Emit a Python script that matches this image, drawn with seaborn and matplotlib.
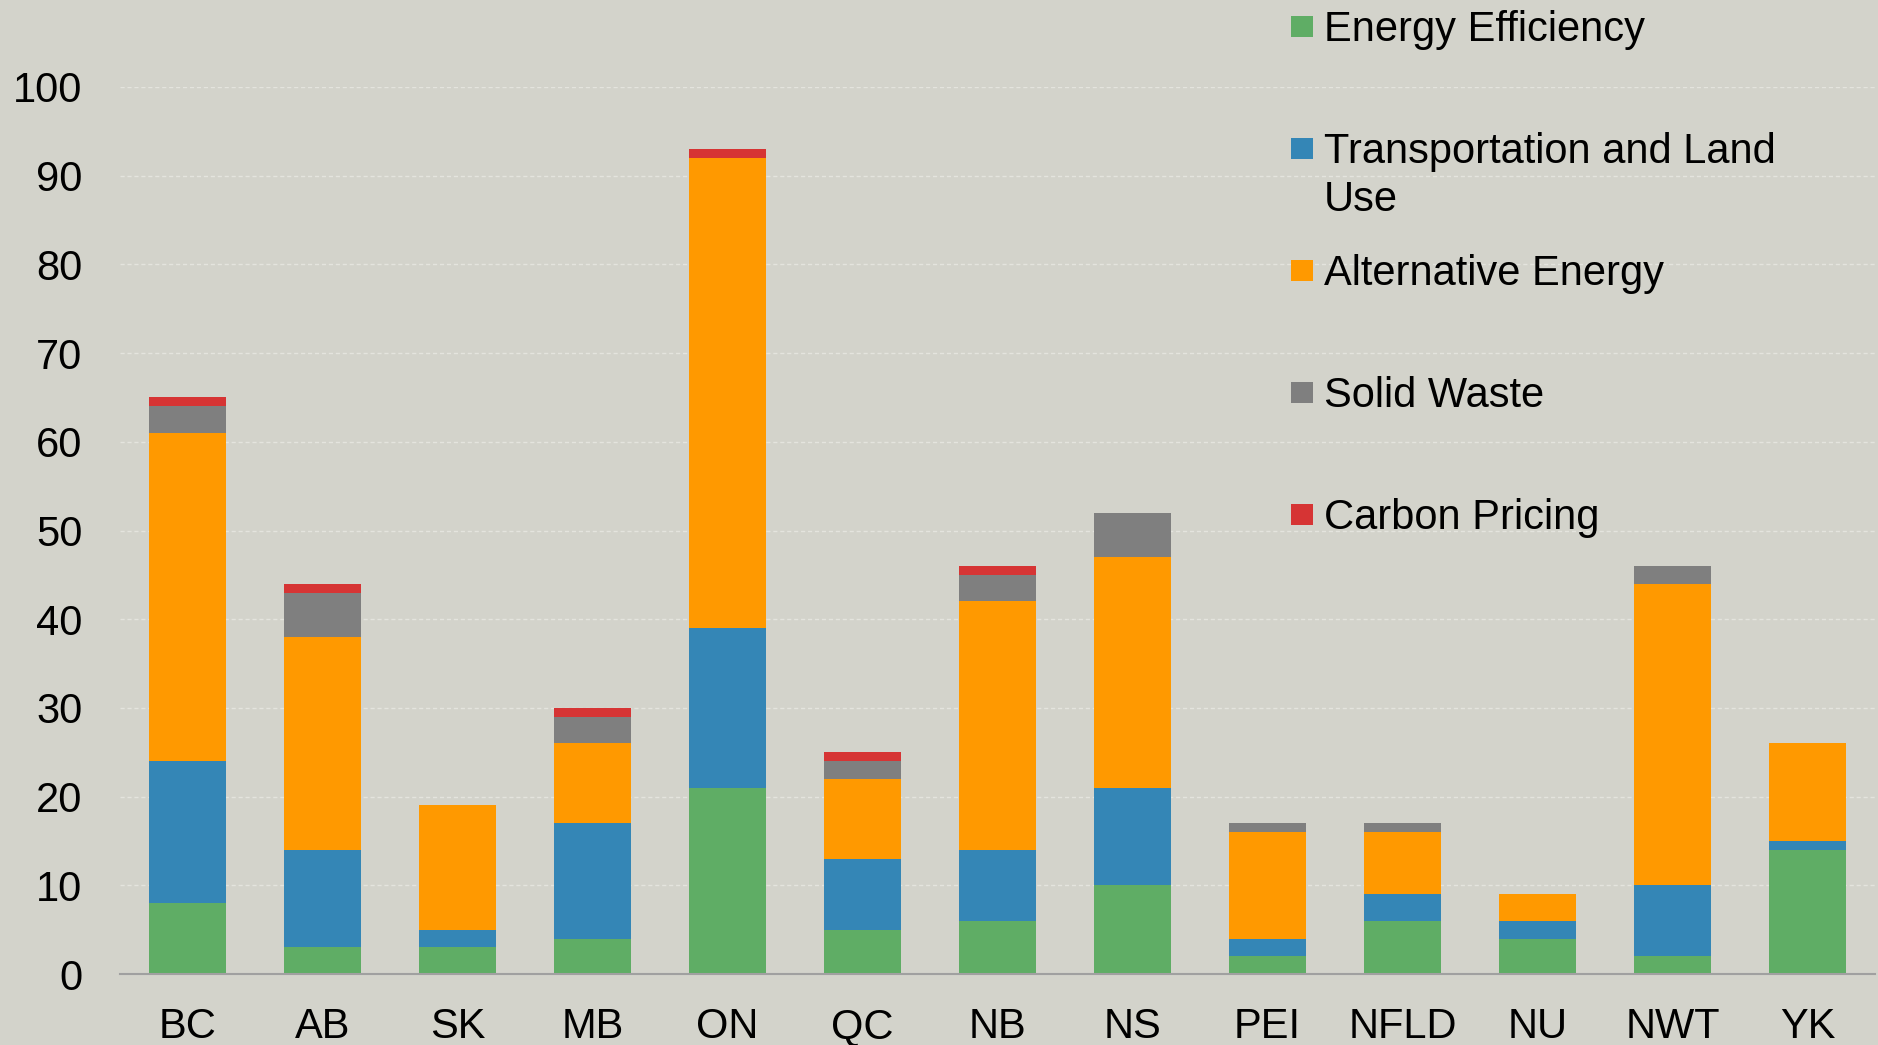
import numpy as np
import pandas as pd
import seaborn as sn
import matplotlib.pyplot as plt
from matplotlib.patches import Rectangle

provinces = ['BC', 'AB', 'SK', 'MB', 'ON', 'QC', 'NB', 'NS', 'PEI', 'NFLD', 'NU', 'NWT', 'YK']
energy_eff = [8, 3, 3, 4, 21, 5, 6, 10, 2, 6, 4, 2, 14]
transport = [16, 11, 2, 13, 18, 8, 8, 11, 2, 3, 2, 8, 1]
alt_energy = [37, 24, 14, 9, 53, 9, 28, 26, 12, 7, 3, 34, 11]
solid_waste = [3, 5, 0, 3, 0, 2, 3, 5, 1, 1, 0, 2, 0]
carbon = [1, 1, 0, 1, 1, 1, 1, 0, 0, 0, 0, 0, 0]

series = ['Energy Efficiency', 'Transportation and Land\nUse', 'Alternative Energy',
          'Solid Waste', 'Carbon Pricing']
colors = ['#5fad65', '#3486b6', '#ff9900', '#7f7f7f', '#d63434']
yticks = [0, 10, 20, 30, 40, 50, 60, 70, 80, 90, 100]

bg = '#d3d3cb'
sn.set_style('white')
plt.rcParams['font.family'] = ['Liberation Sans', 'DejaVu Sans']
plt.rcParams['text.color'] = 'black'
plt.rcParams['xtick.color'] = 'black'
plt.rcParams['ytick.color'] = 'black'

data = pd.DataFrame({'prov': provinces, 'ee': energy_eff, 'tl': transport,
                     'ae': alt_energy, 'sw': solid_waste, 'cp': carbon})
cols = ['ee', 'tl', 'ae', 'sw', 'cp']
cum = data[cols].cumsum(axis=1)

W, H = 1878, 1045
fig = plt.figure(figsize=(W / 100, H / 100), dpi=100, facecolor=bg)
ax = fig.add_axes([120 / W, 1 - 974 / H, (1875 - 120) / W, (974 - 87) / H])
ax.set_facecolor(bg)

# stacked bars: draw running totals from the top layer down
for c, col in reversed(list(zip(colors, cols))):
    sn.barplot(x=data['prov'], y=cum[col], order=provinces, color=c,
               width=0.57, saturation=1, ax=ax, linewidth=0)

ax.set_ylim(0, 100)
ax.set_yticks(yticks)
ax.set_xlabel('')
ax.set_ylabel('')
for y in yticks[1:]:
    ax.axhline(y, color='#e4e4de', lw=1, ls=(0, (3, 2)), zorder=0)
ax.set_axisbelow(True)
for s in ['top', 'right', 'left']:
    ax.spines[s].set_visible(False)
ax.spines['bottom'].set_color('#a0a0a0')
ax.spines['bottom'].set_linewidth(1.5)
ax.tick_params(axis='y', length=0, pad=27, labelsize=30, labelcolor='black')
ax.tick_params(axis='x', length=0, pad=24, labelsize=30, labelcolor='black')

# legend, Excel style: one slot per entry
for i, (lab, c) in enumerate(zip(series, colors)):
    top = 16 + i * 122
    fig.add_artist(Rectangle((1291 / W, 1 - (top + 21) / H), 22 / W, 21 / H,
                             transform=fig.transFigure, color=c, lw=0))
    fig.text(1324 / W, 1 - (10 + i * 122) / H, lab, fontsize=30, va='top',
             ha='left', linespacing=1.25, color='black')

plt.savefig('out.png', dpi=100, facecolor=bg)
